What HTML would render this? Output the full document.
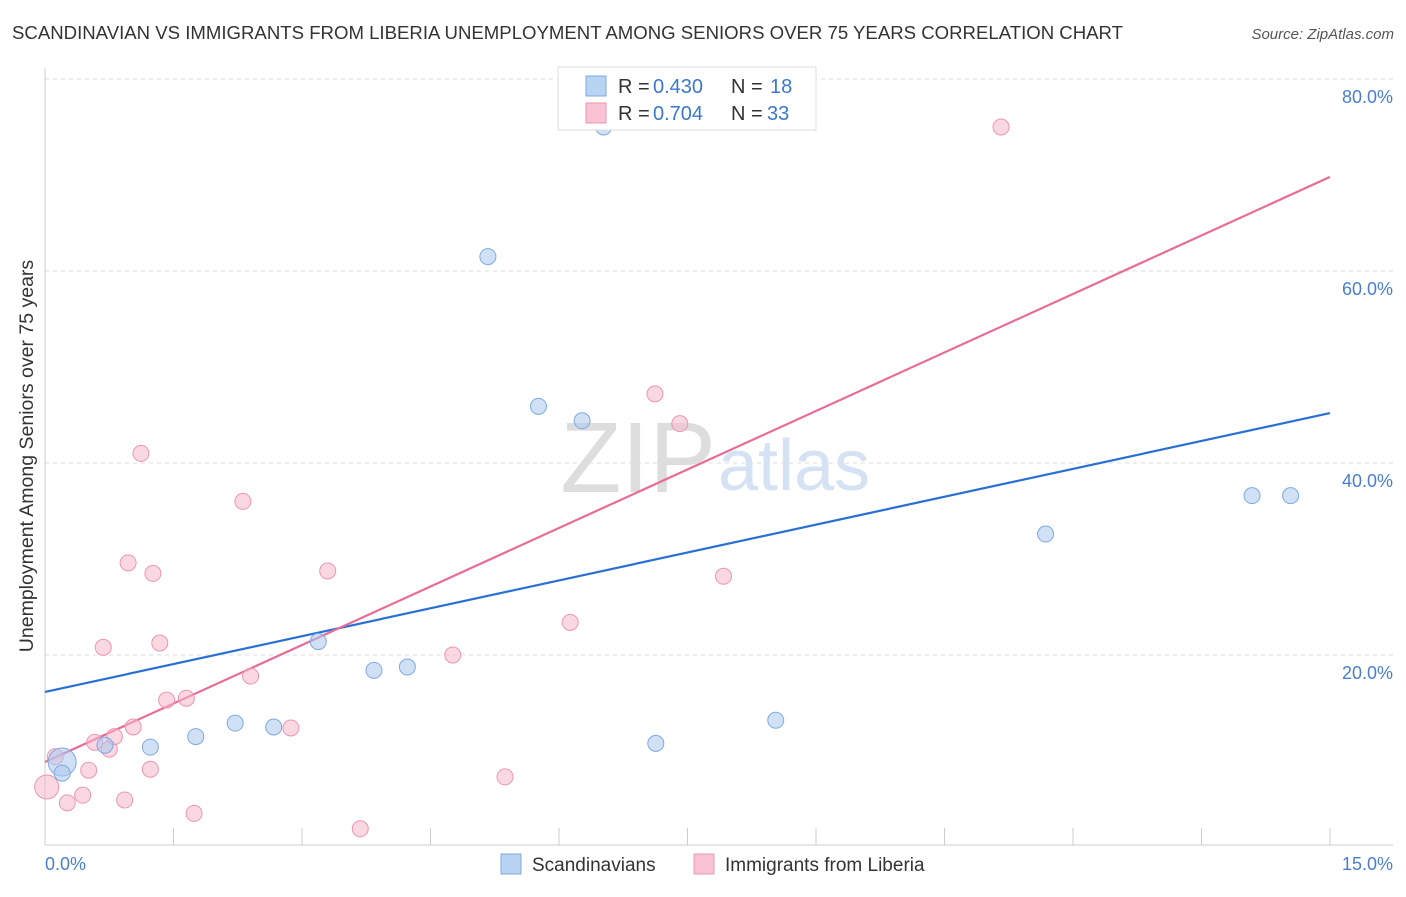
<!DOCTYPE html>
<html><head><meta charset="utf-8"><style>
body{margin:0;background:#fff;font-family:"Liberation Sans",sans-serif;}
svg text{font-family:"Liberation Sans",sans-serif;}
</style></head><body>
<svg width="1406" height="892" xmlns="http://www.w3.org/2000/svg">
<text x="12" y="39" font-size="18.6" fill="#333">SCANDINAVIAN VS IMMIGRANTS FROM LIBERIA UNEMPLOYMENT AMONG SENIORS OVER 75 YEARS CORRELATION CHART</text>
<text x="1394" y="39" font-size="15" fill="#555" font-style="italic" text-anchor="end">Source: ZipAtlas.com</text>
<g id="grid"></g>
<text x="716" y="492" font-size="100" fill="#ddd" text-anchor="end" font-family="Liberation Serif">ZIP</text>
<text x="718" y="490" font-size="72" fill="#d4e2f4">atlas</text>
<g id="lines"></g>
<g id="pts"></g>
<text x="33" y="456" font-size="19.5" fill="#333" text-anchor="middle" transform="rotate(-90 33 456)">Unemployment Among Seniors over 75 years</text>
<text x="45" y="870" font-size="18" fill="#4a7fd0">0.0%</text>
<text x="1393" y="870" font-size="18" fill="#4a7fd0" text-anchor="end">15.0%</text>
<g>
<rect x="558" y="67" width="258" height="63" fill="#fff" stroke="#ddd"/>
<rect x="586" y="76" width="20" height="20" fill="#b9d3f3" stroke="#7fa9e0"/>
<rect x="586" y="103" width="20" height="20" fill="#f8c4d4" stroke="#ee94b2"/>
<text x="618" y="93" font-size="20" fill="#333">R = </text>
<text x="653" y="93" font-size="20" fill="#3a78d0">0.430</text>
<text x="731" y="93" font-size="20" fill="#333">N = </text>
<text x="770" y="93" font-size="20" fill="#3a78d0">18</text>
<text x="618" y="120" font-size="20" fill="#333">R = </text>
<text x="653" y="120" font-size="20" fill="#3a78d0">0.704</text>
<text x="731" y="120" font-size="20" fill="#333">N = </text>
<text x="767" y="120" font-size="20" fill="#3a78d0">33</text>
</g>
<g>
<rect x="501" y="854" width="20" height="20" fill="#b9d3f3" stroke="#7fa9e0"/>
<text x="532" y="871" font-size="19" fill="#333">Scandinavians</text>
<rect x="694" y="854" width="20" height="20" fill="#f8c4d4" stroke="#ee94b2"/>
<text x="725" y="871" font-size="19" fill="#333">Immigrants from Liberia</text>
</g>
</svg>
<script>
const yTicks=[20,40,60,80];
const xTicks=[0,1.5,3,4.5,6,7.5,9,10.5,12,13.5,15];
const blueX=[0.2,0.2,0.7,1.23,1.76,2.22,2.67,3.19,3.84,4.23,5.17,5.76,6.27,6.52,7.13,8.53,11.68,14.09,14.54];
const blueY=[8.85,7.7,10.6,10.4,11.5,12.9,12.5,21.4,18.4,18.75,61.5,45.9,44.4,75.0,10.8,13.2,32.6,36.6,36.6];
const blueR=[14,8,8,8,8,8,8,8,8,8,8,8,8,8,8,8,8,8,8];
const pinkX=[0.02,0.12,0.26,0.44,0.51,0.58,0.68,0.75,0.81,0.93,0.97,1.03,1.12,1.23,1.26,1.34,1.42,1.65,1.74,2.31,2.40,2.87,3.30,3.68,4.76,5.37,6.13,7.12,7.41,7.92,11.16];
const pinkY=[6.25,9.4,4.6,5.4,8.0,10.9,20.8,10.2,11.5,4.9,29.6,12.5,41.0,8.1,28.5,21.25,15.3,15.5,3.5,36.0,17.8,12.4,28.75,1.9,20.0,7.3,23.4,47.2,44.1,28.2,75.0];
const pinkR=[12,8,8,8,8,8,8,8,8,8,8,8,8,8,8,8,8,8,8,8,8,8,8,8,8,8,8,8,8,8,8];
const blueLine=[16.15,45.2];
const pinkLine=[8.85,69.8];
const X=v=>45+v/15*1285, Y=v=>847-v*9.6;
const NS="http://www.w3.org/2000/svg";
function mk(t,a,p){const e=document.createElementNS(NS,t);for(const k in a)e.setAttribute(k,a[k]);p.appendChild(e);return e;}
const g=document.getElementById('grid');
yTicks.forEach(v=>{
 const l=mk('line',{x1:45,x2:1393,y1:Y(v),y2:Y(v),stroke:'#ddd','stroke-dasharray':'4 4'},g);
 
 
 const t=mk('text',{x:1393,y:Y(v)+24,'font-size':18,fill:'#4a7fd0','text-anchor':'end'},g);
 t.textContent=v.toFixed(1)+'%';
 
 
});
const ax=mk('line',{x1:45,x2:1393,y1:845,y2:845,stroke:'#ccc'},g);


const ay=mk('line',{x1:45,x2:45,y1:68,y2:845,stroke:'#ccc'},g);


xTicks.forEach(v=>{
 const l=mk('line',{x1:X(v),x2:X(v),y1:828,y2:845,stroke:'#ccc'},g);
 
 
});
const pg=document.getElementById('pts');
function pts(xs,ys,rs,fill,stroke,name){xs.forEach((x,i)=>{
 const c=mk('circle',{cx:X(x),cy:Y(ys[i]),r:rs[i],fill:fill,stroke:stroke,'stroke-width':1,'fill-opacity':0.55},pg);
 
 
});}
pts(pinkX,pinkY,pinkR,'#f5b8cb','#ee94b2','liberia-point');
pts(blueX,blueY,blueR,'#a9c8ee','#7fa9e0','scandinavian-point');
const lg=document.getElementById('lines');
const bl=mk('line',{x1:X(0),y1:Y(blueLine[0]),x2:X(15),y2:Y(blueLine[1]),stroke:'#2a70d4','stroke-width':2.2},lg);


const pl=mk('line',{x1:X(0),y1:Y(pinkLine[0]),x2:X(15),y2:Y(pinkLine[1]),stroke:'#e86c98','stroke-width':2.2},lg);


</script>
</body></html>
